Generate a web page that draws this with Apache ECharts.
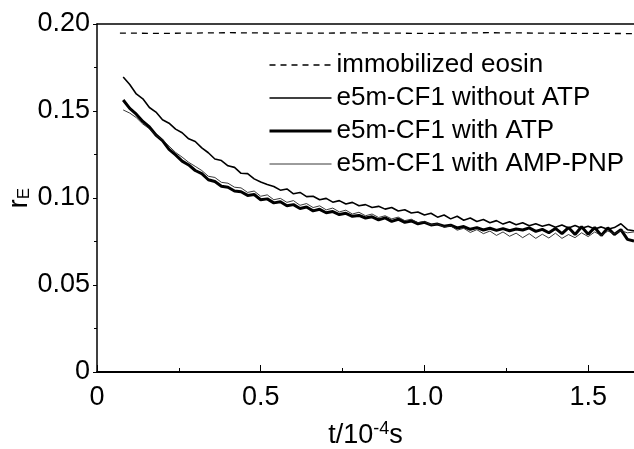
<!DOCTYPE html>
<html>
<head>
<meta charset="utf-8">
<script src="https://cdn.jsdelivr.net/npm/echarts@6/dist/echarts.min.js"></script>
<style>
  html, body { margin: 0; padding: 0; background: #fff; }
  #chart { width: 634px; height: 449px; }
</style>
</head>
<body>
<div id="chart"></div>
<script>
// tiempo (unidades de 10^-4 s)
const times = [
  0.08, 0.10, 0.12, 0.14, 0.16, 0.18, 0.20, 0.22, 0.24, 0.26,
  0.28, 0.30, 0.32, 0.34, 0.36, 0.38, 0.40, 0.42, 0.44, 0.46,
  0.48, 0.50, 0.52, 0.54, 0.56, 0.58, 0.60, 0.62, 0.64, 0.66,
  0.68, 0.70, 0.72, 0.74, 0.76, 0.78, 0.80, 0.82, 0.84, 0.86,
  0.88, 0.90, 0.92, 0.94, 0.96, 0.98, 1.00, 1.02, 1.04, 1.06,
  1.08, 1.10, 1.12, 1.14, 1.16, 1.18, 1.20, 1.22, 1.24, 1.26,
  1.28, 1.30, 1.32, 1.34, 1.36, 1.38, 1.40, 1.42, 1.44, 1.46,
  1.48, 1.50, 1.52, 1.54, 1.56, 1.58, 1.60, 1.62, 1.64
];

const withoutATP = [
  0.1695, 0.1652, 0.1598, 0.1570, 0.1520, 0.1494, 0.1450, 0.1430, 0.1396, 0.1375,
  0.1340, 0.1325, 0.1288, 0.1260, 0.1224, 0.1215, 0.1185, 0.1176, 0.1142, 0.1140,
  0.1110, 0.1092, 0.1078, 0.1066, 0.1045, 0.1052, 0.1024, 0.1032, 0.1008, 0.1010,
  0.0990, 0.0998, 0.0976, 0.0985, 0.0966, 0.0975, 0.0955, 0.0962, 0.0945, 0.0952,
  0.0936, 0.0945, 0.0925, 0.0932, 0.0914, 0.0920, 0.0902, 0.0912, 0.0890, 0.0902,
  0.0880, 0.0895, 0.0872, 0.0885, 0.0865, 0.0876, 0.0858, 0.0870, 0.0850, 0.0864,
  0.0846, 0.0858, 0.0840, 0.0852, 0.0838, 0.0848, 0.0832, 0.0845, 0.0828, 0.0842,
  0.0826, 0.0838, 0.0822, 0.0834, 0.0820, 0.0830, 0.0852, 0.0818, 0.0812
];

const withATP = [
  0.1563, 0.1515, 0.1482, 0.1440, 0.1408, 0.1362, 0.1330, 0.1280, 0.1248, 0.1212,
  0.1190, 0.1158, 0.1140, 0.1105, 0.1095, 0.1068, 0.1062, 0.1040, 0.1036, 0.1015,
  0.1020, 0.0990, 0.0995, 0.0972, 0.0978, 0.0955, 0.0962, 0.0940, 0.0948, 0.0926,
  0.0935, 0.0915, 0.0922, 0.0905, 0.0912, 0.0895, 0.0900, 0.0885, 0.0892, 0.0874,
  0.0886, 0.0866, 0.0878, 0.0860, 0.0868, 0.0852, 0.0860, 0.0845, 0.0850, 0.0838,
  0.0844, 0.0828, 0.0836, 0.0820, 0.0830, 0.0816, 0.0826, 0.0814, 0.0824, 0.0812,
  0.0822, 0.0816, 0.0828, 0.0808, 0.0820, 0.0800, 0.0825, 0.0795, 0.0830, 0.0790,
  0.0835, 0.0792, 0.0830, 0.0785, 0.0828, 0.0790, 0.0818, 0.0762, 0.0752
];

const withAMPPNP = [
  0.1506, 0.1488, 0.1462, 0.1425, 0.1398, 0.1360, 0.1335, 0.1298, 0.1262, 0.1235,
  0.1205, 0.1182, 0.1158, 0.1125, 0.1118, 0.1090, 0.1085, 0.1062, 0.1058, 0.1032,
  0.1040, 0.1010, 0.1018, 0.0990, 0.0998, 0.0975, 0.0985, 0.0958, 0.0968, 0.0945,
  0.0955, 0.0932, 0.0942, 0.0920, 0.0930, 0.0908, 0.0918, 0.0898, 0.0908, 0.0888,
  0.0898, 0.0880, 0.0890, 0.0870, 0.0878, 0.0858, 0.0866, 0.0846, 0.0852, 0.0832,
  0.0840, 0.0815, 0.0826, 0.0802, 0.0818, 0.0795, 0.0810, 0.0785, 0.0805, 0.0780,
  0.0798, 0.0772, 0.0795, 0.0768, 0.0792, 0.0770, 0.0798, 0.0768, 0.0790, 0.0772,
  0.0800, 0.0778, 0.0805, 0.0785, 0.0810, 0.0795, 0.0812, 0.0800, 0.0805
];

// eosina inmovilizada: casi constante
const eosinTimes = [0.07, 0.20, 0.40, 0.60, 0.80, 1.00, 1.20, 1.40, 1.64];
const eosin = [0.1948, 0.1946, 0.1950, 0.1947, 0.1949, 0.1946, 0.1950, 0.1947, 0.1945];

const seriesNames = [
  "immobilized eosin",
  "e5m-CF1 without ATP",
  "e5m-CF1 with ATP",
  "e5m-CF1 with AMP-PNP",
];

const FONT = "Liberation Sans";

// estilos de línea de cada serie (también para la leyenda)
const lineStyles = [
  { color: "#000", width: 1.3, type: [6, 5] },
  { color: "#000", width: 1.6, type: "solid" },
  { color: "#000", width: 3, type: "solid" },
  { color: "#222", width: 0.9, type: "solid" },
];

function pairs(xs, ys) {
  return xs.map((x, i) => [x, ys[i]]);
}

const chart = echarts.init(document.getElementById("chart"));

const option = {
  animation: false,
  backgroundColor: "#fff",
  textStyle: { fontFamily: FONT, color: "#000" },
  grid: { left: 97, right: 0, top: 24, bottom: 77, outerBoundsMode: "none", containLabel: false },
  legend: {
    orient: "vertical",
    left: 263,
    top: 47,
    itemWidth: 62,
    itemHeight: 24,
    itemGap: 7,
    data: seriesNames.map((name, i) => ({ name, lineStyle: lineStyles[i] })),
    itemStyle: { opacity: 0 },
    textStyle: { fontFamily: FONT, fontSize: 26, color: "#000" },
  },
  xAxis: [
    {
      type: "value",
      min: 0,
      max: 1.64,
      interval: 0.5,
      name: "t/10{sup|-4}s",
      nameLocation: "middle",
      nameGap: 48,
      nameMoveOverlap: false,
      nameTextStyle: {
        fontFamily: FONT,
        fontSize: 27,
        color: "#000",
        rich: {
          sup: { fontFamily: FONT, fontSize: 18, verticalAlign: "top", padding: [0, 0, 14, 0] },
        },
      },
      axisLine: { lineStyle: { color: "#000", width: 1.8 } },
      axisTick: { inside: true, length: 7, lineStyle: { color: "#000" } },
      minorTick: { show: true, splitNumber: 2, length: 4, lineStyle: { color: "#000" } },
      splitLine: { show: false },
      axisLabel: {
        fontFamily: FONT,
        fontSize: 27,
        color: "#000",
        margin: 12,
        formatter: (v) => {
          const r = Math.round(v * 2) / 2;
          if (Math.abs(v - r) > 1e-6) return "";
          return v === 0 ? "0" : v.toFixed(1);
        },
      },
    },
    {
      type: "value",
      position: "top",
      min: 0,
      max: 1.64,
      axisLine: { show: true, lineStyle: { color: "#000", width: 1.5 } },
      axisTick: { show: false },
      axisLabel: { show: false },
      splitLine: { show: false },
    },
  ],
  yAxis: {
    type: "value",
    min: 0,
    max: 0.2,
    interval: 0.05,
    name: "r{sub|E}",
    nameLocation: "middle",
    nameRotate: 90,
    nameGap: 64,
    nameMoveOverlap: false,
    nameTextStyle: {
      fontFamily: FONT,
      fontSize: 27,
      color: "#000",
      rich: {
        sub: { fontFamily: FONT, fontSize: 17, verticalAlign: "bottom", padding: [10, 0, 0, 0] },
      },
    },
    axisLine: { lineStyle: { color: "#000", width: 1.5 } },
    axisTick: { length: 4, lineStyle: { color: "#000" } },
    minorTick: { show: true, splitNumber: 2, length: 3, lineStyle: { color: "#000" } },
    splitLine: { show: false },
    axisLabel: {
      fontFamily: FONT,
      fontSize: 27,
      color: "#000",
      margin: 7,
      formatter: (v) => (v === 0 ? "0" : v.toFixed(2)),
    },
  },
  series: [
    {
      name: seriesNames[0],
      type: "line",
      symbol: "none",
      data: pairs(eosinTimes, eosin),
      lineStyle: lineStyles[0],
      itemStyle: { color: "#000" },
    },
    {
      name: seriesNames[1],
      type: "line",
      symbol: "none",
      data: pairs(times, withoutATP),
      lineStyle: lineStyles[1],
      itemStyle: { color: "#000" },
    },
    {
      name: seriesNames[2],
      type: "line",
      symbol: "none",
      data: pairs(times, withATP),
      lineStyle: lineStyles[2],
      itemStyle: { color: "#000" },
    },
    {
      name: seriesNames[3],
      type: "line",
      symbol: "none",
      data: pairs(times, withAMPPNP),
      lineStyle: lineStyles[3],
      itemStyle: { color: "#222" },
    },
  ],
};

chartInstance = chart;
chart.setOption(option);
</script>
</body>
</html>
